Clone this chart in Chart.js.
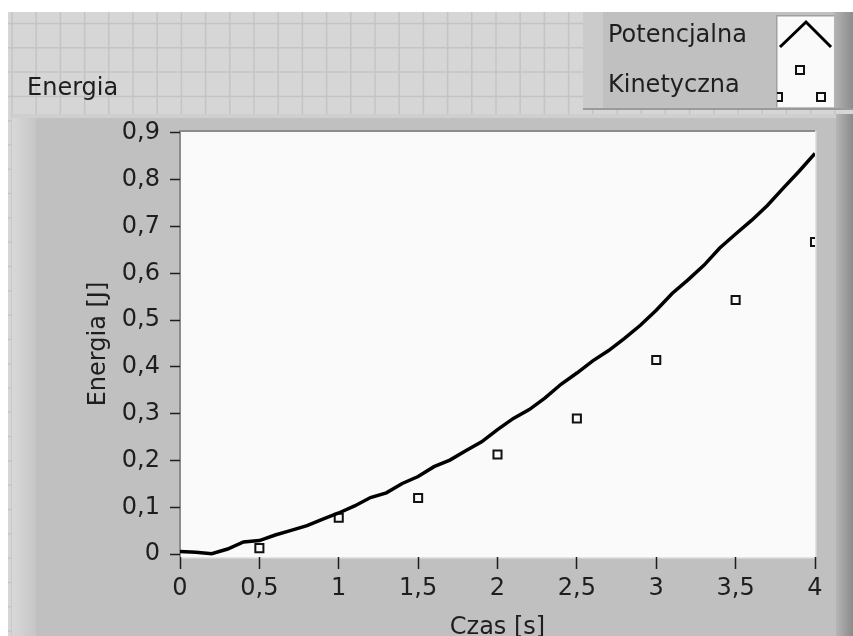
<!DOCTYPE html>
<html lang="pl">
<head>
<meta charset="utf-8">
<title>Energia</title>
<script src="https://cdn.jsdelivr.net/npm/chart.js@4.4.1/dist/chart.umd.min.js"></script>
<style>
  html, body { margin: 0; padding: 0; background: #fff; overflow: hidden; }
  #wrap { width: 853px; height: 636px; }
</style>
</head>
<body>
<div id="wrap"><canvas id="energia" width="853" height="636"></canvas></div>
<script>
// dane
const czas = [0, 0.1, 0.2, 0.3, 0.4, 0.5, 0.6, 0.7, 0.8, 0.9,
  1.0, 1.1, 1.2, 1.3, 1.4, 1.5, 1.6, 1.7, 1.8, 1.9,
  2.0, 2.1, 2.2, 2.3, 2.4, 2.5, 2.6, 2.7, 2.8, 2.9,
  3.0, 3.1, 3.2, 3.3, 3.4, 3.5, 3.6, 3.7, 3.8, 3.9, 4.0];
const potencjalna = [0.006, 0.004, 0.001, 0.011, 0.026, 0.029, 0.041, 0.051, 0.061, 0.075,
  0.088, 0.103, 0.121, 0.131, 0.151, 0.166, 0.187, 0.201, 0.221, 0.240,
  0.266, 0.290, 0.309, 0.334, 0.363, 0.387, 0.413, 0.435, 0.461, 0.489,
  0.521, 0.557, 0.586, 0.617, 0.654, 0.684, 0.713, 0.745, 0.782, 0.818, 0.856];
const czasKin = [0.5, 1.0, 1.5, 2.0, 2.5, 3.0, 3.5, 4.0];
const kinetyczna = [0.013, 0.078, 0.120, 0.213, 0.290, 0.415, 0.543, 0.667];
const yTicks = [0, 0.1, 0.2, 0.3, 0.4, 0.5, 0.6, 0.7, 0.8, 0.9];
const xTicks = [0, 0.5, 1, 1.5, 2, 2.5, 3, 3.5, 4];

const FONT = 'DejaVu Sans';
const TXT = '#1e1e1e';
const comma = (v) => String(v).replace('.', ',');

// tlo w stylu panelu LabVIEW
const panel = {
  id: 'panel',
  beforeDraw(chart) {
    const c = chart.ctx;
    const a = chart.chartArea;
    c.save();
    c.fillStyle = '#fff';
    c.fillRect(0, 0, 853, 636);

    // siatka
    c.fillStyle = '#d6d6d6';
    c.fillRect(8, 12, 845, 624);
    c.strokeStyle = '#c4c4c4';
    c.lineWidth = 1.5;
    for (let x = 12; x < 853; x += 24.2) {
      c.beginPath(); c.moveTo(x, 12); c.lineTo(x, 636); c.stroke();
    }
    for (let y = 23.5; y < 636; y += 24.3) {
      c.beginPath(); c.moveTo(8, y); c.lineTo(853, y); c.stroke();
    }

    // panel wykresu
    c.fillStyle = '#c0c0c0';
    c.fillRect(12, 114, 841, 522);
    let g = c.createLinearGradient(12, 0, 36, 0);
    g.addColorStop(0, '#d8d8d8');
    g.addColorStop(1, '#c6c6c6');
    c.fillStyle = g;
    c.fillRect(12, 114, 24, 522);
    g = c.createLinearGradient(836, 0, 853, 0);
    g.addColorStop(0, '#b6b6b6');
    g.addColorStop(1, '#8a8a8a');
    c.fillStyle = g;
    c.fillRect(836, 114, 17, 522);
    c.fillStyle = '#cfcfcf';
    c.fillRect(12, 114, 824, 4);

    // legenda
    c.fillStyle = '#c0c0c0';
    c.fillRect(583, 12, 270, 98);
    c.fillStyle = '#cbcbcb';
    c.fillRect(583, 12, 20, 98);
    g = c.createLinearGradient(834, 0, 853, 0);
    g.addColorStop(0, '#b4b4b4');
    g.addColorStop(1, '#8c8c8c');
    c.fillStyle = g;
    c.fillRect(834, 12, 19, 98);
    c.fillStyle = '#9a9a9a';
    c.fillRect(583, 108, 270, 2);
    c.fillStyle = '#fafafa';
    c.fillRect(777, 16, 57, 91);
    c.fillStyle = '#a0a0a0';
    c.fillRect(777, 15, 57, 1.5);
    c.fillRect(776, 15, 1.5, 92);

    // obszar wykresu
    c.fillStyle = '#fafafa';
    c.fillRect(a.left, a.top, a.right - a.left, a.bottom - a.top);
    c.fillStyle = '#8c8c8c';
    c.fillRect(a.left - 1, a.top - 1, a.right - a.left + 1, 2);
    c.fillRect(a.left - 1, a.top - 1, 2, a.bottom - a.top + 1);
    c.fillStyle = '#e4e4e4';
    c.fillRect(a.left, a.bottom, a.right - a.left + 1, 1.5);
    c.fillRect(a.right, a.top, 1.5, a.bottom - a.top);

    // napisy
    c.fillStyle = TXT;
    c.font = '24px ' + FONT;
    c.textBaseline = 'middle';
    c.textAlign = 'left';
    c.fillText('Energia', 27, 89);
    c.restore();
  },
  afterDraw(chart) {
    const c = chart.ctx;
    const ds = chart.data.datasets;
    c.save();
    c.fillStyle = TXT;
    c.font = '24px ' + FONT;
    c.textBaseline = 'middle';
    c.textAlign = 'left';
    c.fillText(ds[0].label, 608, 36);
    c.fillText(ds[1].label, 608, 86);

    c.beginPath();
    c.rect(777, 16, 57, 91);
    c.clip();
    c.strokeStyle = '#000';
    c.lineWidth = 3;
    c.beginPath();
    c.moveTo(780, 47); c.lineTo(806, 22); c.lineTo(831, 47);
    c.stroke();
    c.lineWidth = 2;
    c.strokeStyle = '#111';
    [[800, 70], [778, 97], [821, 97]].forEach(([x, y]) => {
      c.strokeRect(x - 4, y - 4, 8, 8);
    });
    c.restore();
  }
};

document.addEventListener('DOMContentLoaded', () => {
  const ctx = document.getElementById('energia');

  new Chart(ctx, {
    type: 'scatter',
    data: {
      datasets: [
        {
          label: 'Potencjalna',
          data: potencjalna.map((v, i) => ({ x: czas[i], y: v })),
          showLine: true,
          borderColor: '#000',
          borderWidth: 3.5,
          pointRadius: 0,
          tension: 0,
          clip: 0,
        },
        {
          label: 'Kinetyczna',
          data: kinetyczna.map((v, i) => ({ x: czasKin[i], y: v })),
          pointStyle: 'rect',
          pointRadius: 5.7,
          borderWidth: 2,
          borderColor: '#111',
          backgroundColor: '#fafafa',
          clip: 0,
        }
      ],
    },
    plugins: [panel],
    options: {
      responsive: false,
      animation: false,
      events: [],
      layout: {
        padding: { top: 131, right: 38, left: 72, bottom: 0 },
      },
      font: { family: FONT },
      scales: {
        x: {
          type: 'linear',
          min: 0,
          max: 4,
          afterBuildTicks: (s) => { s.ticks = xTicks.map(v => ({ value: v })); },
          afterFit: (s) => { s.height = 79; },
          border: { display: false },
          grid: {
            drawOnChartArea: false,
            tickLength: 12,
            tickColor: TXT,
            tickWidth: 1.5,
          },
          ticks: {
            color: TXT,
            padding: 5,
            maxRotation: 0,
            font: { family: FONT, size: 24 },
            callback: (v) => comma(v),
          },
          title: {
            display: true,
            text: 'Czas [s]',
            color: TXT,
            padding: { top: 0, bottom: -4 },
            font: { family: FONT, size: 24, lineHeight: 1 },
          },
        },
        y: {
          min: -0.006,
          max: 0.904,
          afterBuildTicks: (s) => { s.ticks = yTicks.map(v => ({ value: v })); },
          afterFit: (s) => { s.width = 108; },
          border: { display: false },
          grid: {
            drawOnChartArea: false,
            tickLength: 10,
            tickColor: TXT,
            tickWidth: 1.5,
          },
          ticks: {
            color: TXT,
            padding: 10,
            font: { family: FONT, size: 24 },
            callback: (v) => comma(v),
          },
          title: {
            display: true,
            text: 'Energia [J]',
            color: TXT,
            padding: { top: 12, bottom: 0 },
            font: { family: FONT, size: 24 },
          },
        },
      },
      plugins: {
        legend: { display: false },
        tooltip: { enabled: false },
      },
    },
  });
});
</script>
</body>
</html>
